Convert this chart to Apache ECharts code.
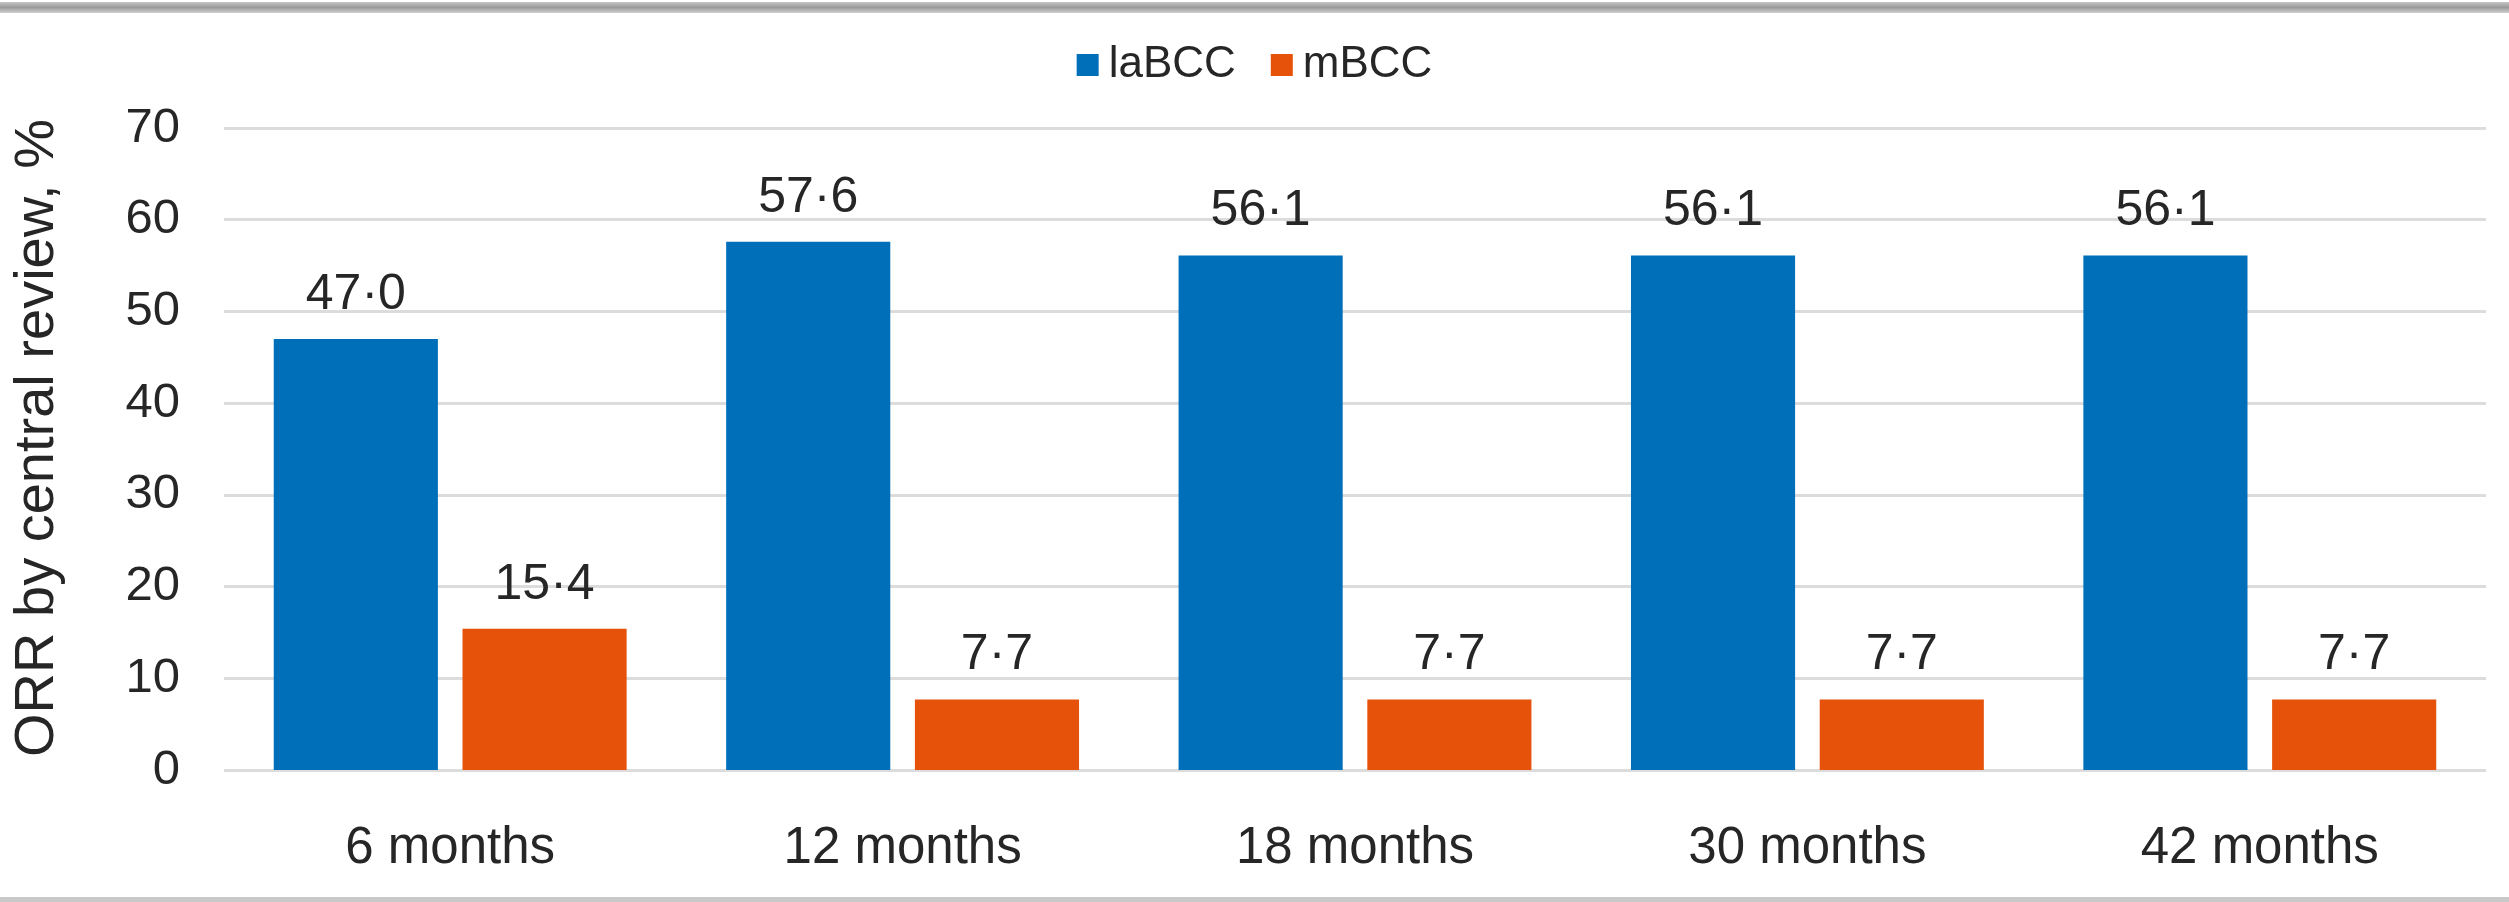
<!DOCTYPE html>
<html>
<head>
<meta charset="utf-8">
<script src="https://cdn.jsdelivr.net/npm/echarts@6/dist/echarts.min.js"></script>
<style>
html,body{margin:0;padding:0;background:#fff;}
#c{width:2509px;height:902px;}
</style>
</head>
<body>
<div id="c"></div>
<script>
var categories = ['6 months', '12 months', '18 months', '30 months', '42 months'];
var seriesNames = ['laBCC', 'mBCC'];
var laBCC = [47.0, 57.6, 56.1, 56.1, 56.1];
var mBCC = [15.4, 7.7, 7.7, 7.7, 7.7];
var yTicks = [0, 10, 20, 30, 40, 50, 60, 70];
var yTitle = 'ORR by central review, %';

var FONT = '"Liberation Sans", Arial, sans-serif';
var TXT = '#262626';

function fmt(p) { return p.value.toFixed(1).replace('.', '\u00b7'); }

var chart = echarts.init(document.getElementById('c'), null, {renderer: 'canvas'});
chart.setOption({
  animation: false,
  backgroundColor: '#ffffff',
  textStyle: {fontFamily: FONT},
  graphic: [
    {type: 'rect', shape: {x: 0, y: 2, width: 2509, height: 11},
     style: {fill: {type: 'linear', x: 0, y: 0, x2: 0, y2: 1,
       colorStops: [{offset: 0, color: '#c4c4c4'}, {offset: 0.5, color: '#9a9a9a'}, {offset: 1, color: '#d0d0d0'}]}}},
    {type: 'rect', shape: {x: 0, y: 897, width: 2509, height: 5},
     style: {fill: '#c9c9c9'}}
  ],
  legend: {
    data: seriesNames,
    top: 38,
    left: 'center',
    icon: 'rect',
    itemWidth: 22,
    itemHeight: 22,
    itemGap: 35,
    textStyle: {fontSize: 44, color: TXT, fontFamily: FONT, padding: [0, 0, 0, 5]}
  },
  grid: {left: 224, right: 23, top: 128, bottom: 132, containLabel: false, outerBoundsMode: 'none'},
  xAxis: {
    type: 'category',
    data: categories,
    axisLine: {show: false},
    axisTick: {show: false},
    axisLabel: {fontSize: 51, color: TXT, fontFamily: FONT, margin: 53}
  },
  yAxis: {
    type: 'value',
    min: yTicks[0],
    max: yTicks[yTicks.length - 1],
    interval: 10,
    name: yTitle,
    nameLocation: 'middle',
    nameGap: 158,
    nameTextStyle: {fontSize: 56, color: TXT, fontFamily: FONT, padding: [0, 0, 0, 22]},
    axisLine: {show: false},
    axisTick: {show: false},
    axisLabel: {fontSize: 49, color: TXT, fontFamily: FONT, margin: 44},
    splitLine: {show: true, lineStyle: {color: '#dcdcdc', width: 3}}
  },
  series: [
    {
      name: seriesNames[0], type: 'bar', data: laBCC,
      barCategoryGap: '22%', barGap: '15%',
      itemStyle: {color: '#006fba'},
      label: {show: true, position: 'top', distance: 19, formatter: fmt,
        fontSize: 50, color: TXT, fontFamily: FONT}
    },
    {
      name: seriesNames[1], type: 'bar', data: mBCC,
      barCategoryGap: '22%', barGap: '15%',
      itemStyle: {color: '#e6520a'},
      label: {show: true, position: 'top', distance: 19, formatter: fmt,
        fontSize: 50, color: TXT, fontFamily: FONT}
    }
  ]
});
</script>
</body>
</html>
